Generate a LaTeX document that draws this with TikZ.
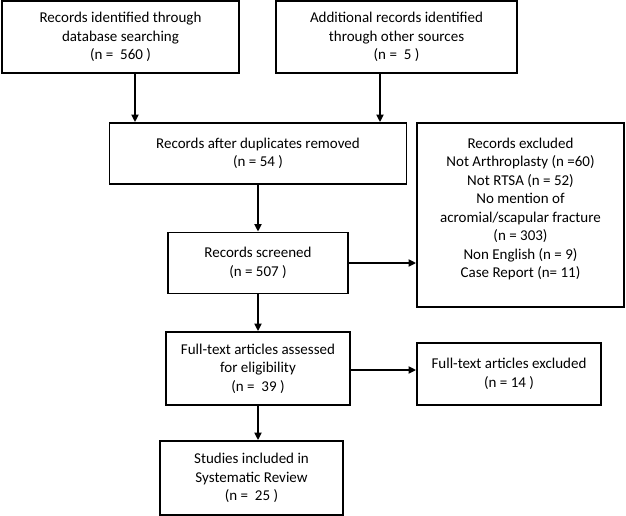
\documentclass[tikz,border=0pt]{standalone}
\usepackage{fontspec}
\setmainfont{Carlito}
\usetikzlibrary{arrows.meta}

\begin{document}
\begin{tikzpicture}[
    x=1pt, y=-1pt,
    box/.style={rectangle, draw=black, line width=1.8pt, inner sep=0pt, align=center,
        font=\fontsize{15}{18.5}\selectfont},
    flow/.style={-{Triangle[length=7.5pt,width=7pt]}, line width=1.7pt}
]
    \useasboundingbox (0,0) rectangle (626,516);

    % Boxes
    \node[box, minimum width=237pt, minimum height=72pt] (ident) at (120.5,37)
        {Records identified through\\database searching\\(n = \ 560 )};
    \node[box, minimum width=241pt, minimum height=72pt] (other) at (396.5,37)
        {Additional records identified\\through other sources\\(n = \ 5 )};
    \node[box, minimum width=297pt, minimum height=61pt] (dedup) at (258,153.5)
        {Records after duplicates removed\\(n = 54 )};
    \node[box, minimum width=207pt, minimum height=184pt] (excl) at (520.5,215)
        {Records excluded\\Not Arthroplasty (n =60)\\Not RTSA (n = 52)\\No mention of\\
         acromial/scapular fracture\\(n = 303)\\Non English (n = 9)\\Case Report (n= 11)\\[-4pt]};
    \node[box, minimum width=180pt, minimum height=61pt] (screen) at (258,263)
        {Records screened\\(n = 507 )};
    \node[box, minimum width=184pt, minimum height=73pt] (fulltext) at (258,368.5)
        {Full-text articles assessed\\for eligibility\\(n = \ 39 )};
    \node[box, minimum width=184pt, minimum height=62pt] (ftexcl) at (509,374)
        {Full-text articles excluded\\(n = 14 )};
    \node[box, minimum width=183pt, minimum height=74pt] (incl) at (251.5,478)
        {Studies included in\\Systematic Review\\(n = \ 25 )};

    % Arrows
    \draw[flow] ([xshift=14.5pt]ident.south) -- ([xshift=14.5pt]ident.south |- dedup.north);
    \draw[flow] ([xshift=-16.5pt]other.south) -- ([xshift=-16.5pt]other.south |- dedup.north);
    \draw[flow] (dedup.south) -- (screen.north);
    \draw[flow] (screen.east) -- (screen.east -| excl.west);
    \draw[flow] (screen.south) -- (fulltext.north);
    \draw[flow] ([yshift=-1.5pt]fulltext.east) -- ([yshift=-1.5pt]fulltext.east -| ftexcl.west);
    \draw[flow] (fulltext.south) -- (fulltext.south |- incl.north);
\end{tikzpicture}
\end{document}
